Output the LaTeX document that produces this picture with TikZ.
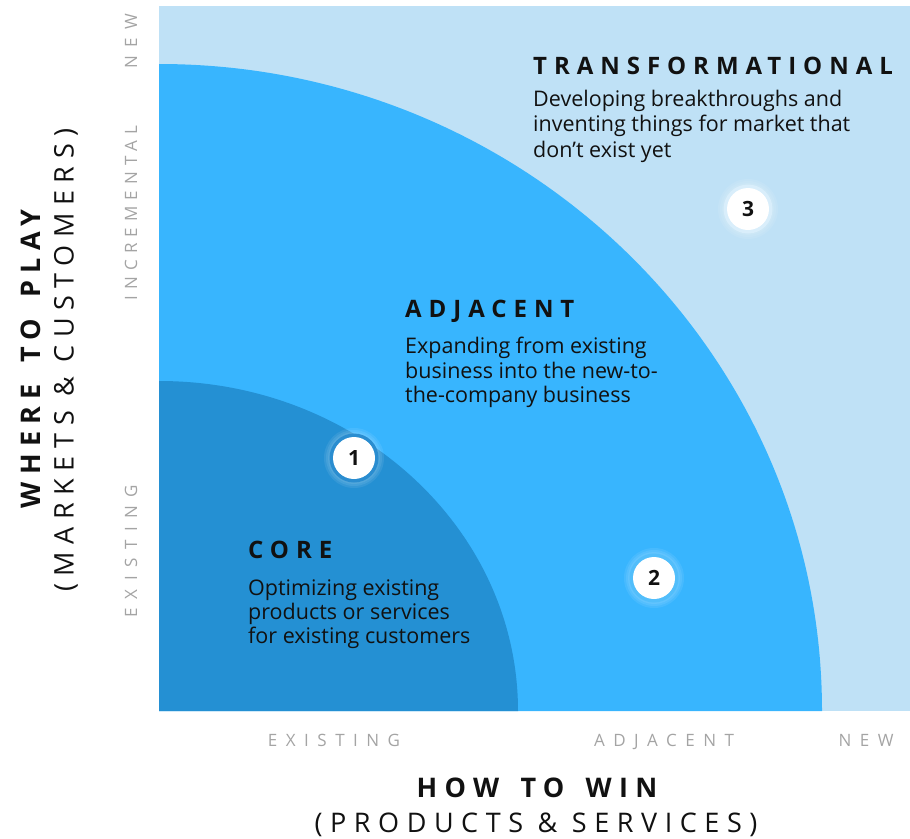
\documentclass[tikz,border=0pt]{standalone}
\usepackage{fontspec}
\setmainfont{Open Sans}
\definecolor{bglight}{HTML}{BFE1F6}
\definecolor{midblue}{HTML}{38B5FE}
\definecolor{coreblue}{HTML}{2490D3}
\definecolor{graytxt}{HTML}{A4A4A4}
\definecolor{txt}{HTML}{111111}
\definecolor{ringone}{HTML}{2A8DD0}
\definecolor{ringtwo}{HTML}{52BEFB}
\definecolor{ringthree}{HTML}{D9EEFB}
\newcommand{\wsp}{\hspace{7pt} }
\begin{document}
\begin{tikzpicture}[x=1pt,y=-1pt,
  title/.style={inner sep=0pt,anchor=base west,text=txt,font=\fontsize{24}{28}\selectfont\bfseries\addfontfeature{LetterSpace=29}},
  body/.style={inner sep=0pt,anchor=base west,text=txt,font=\fontsize{21.5}{24}\selectfont},
  axisbig/.style={inner sep=0pt,text=txt,font=\fontsize{27}{32}\selectfont\bfseries\addfontfeature{LetterSpace=27}},
  axissub/.style={inner sep=0pt,text=txt,font=\fontsize{27}{32}\selectfont\addfontfeature{LetterSpace=28}},
  tick/.style={inner sep=0pt,text=graytxt,font=\fontsize{17}{20}\selectfont\addfontfeature{LetterSpace=50}},
  ticknarrow/.style={inner sep=0pt,text=graytxt,font=\fontsize{17}{20}\selectfont\addfontfeature{LetterSpace=36}},
  numdot/.style={circle,fill=white,minimum size=42pt,inner sep=0pt,text=txt,font=\fontsize{21}{24}\selectfont\bfseries}
]
\useasboundingbox (0,0) rectangle (910,838);
% regions
\fill[bglight] (159,6) rectangle (910,711);
\fill[midblue] (159,711) -- (822,711) arc[start angle=0,end angle=90,x radius=663pt,y radius=647pt] -- cycle;
\fill[coreblue] (159,711) -- (518,711) arc[start angle=0,end angle=90,x radius=359pt,y radius=330pt] -- cycle;

% texts
\node[title] (tt) at (533,74) {TRANSFORMATIONAL};
\node[body] (tb1) at (533,106) {Developing breakthroughs and};
\node[body] (tb2) at (533,131) {inventing things for market that};
\node[body] (tb3) at (533,157) {don’t exist yet};

\node[title] (at) at (405,317) {ADJACENT};
\node[body] (ab1) at (405,353) {Expanding from existing};
\node[body] (ab2) at (405,378) {business into the new-to-};
\node[body] (ab3) at (405,402) {the-company business};

\node[title] (ct) at (248,558) {CORE};
\node[body] (cb1) at (248,595) {Optimizing existing};
\node[body] (cb2) at (248,619) {products or services};
\node[body] (cb3) at (248,643) {for existing customers};

% number dots
\foreach \n/\x/\y/\rc in {1/354/458/ringone,2/654/578/ringtwo,3/748/209/ringthree}{
  \foreach \r in {30,28,26}{
    \fill[white,opacity=0.08] (\x,\y) circle[radius=\r pt];
  }
  \fill[\rc] (\x,\y) circle[radius=24.5pt];
  \node[numdot] (d\n) at (\x,\y) {\n};
}

% axis ticks
\node[tick,rotate=90] (yn) at (131,41) {NEW};
\node[ticknarrow,rotate=90] (yi) at (131,213) {INCREMENTAL};
\node[tick,rotate=90] (ye) at (131,551) {EXISTING};
\node[tick,anchor=base] (xe) at (334,746) {EXISTING};
\node[tick,anchor=base] (xa) at (664,746) {ADJACENT};
\node[tick,anchor=base] (xn) at (866,746) {NEW};

% axis titles
\node[axisbig,anchor=base] (xt) at (537,797) {HOW\wsp TO\wsp WIN};
\node[axissub,anchor=base] (xs) at (536,832) {(PRODUCTS \& SERVICES)};
\node[axisbig,rotate=90] (yt) at (31,359) {WHERE\wsp TO\wsp PLAY};
\node[axissub,rotate=90] (ys) at (66,360) {(MARKETS \& CUSTOMERS)};
\end{tikzpicture}
\end{document}
